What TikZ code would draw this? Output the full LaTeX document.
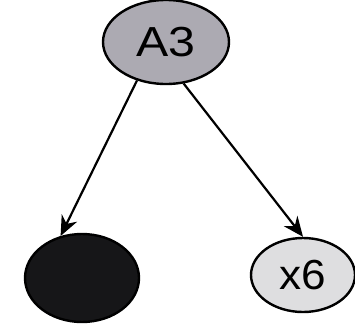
\documentclass[tikz,border=0pt]{standalone}
\usepackage{fontspec}
\setmainfont{Liberation Sans}
\usetikzlibrary{shapes.geometric,arrows.meta}
\definecolor{midgrey}{RGB}{172,170,178}
\definecolor{lightgrey}{RGB}{222,222,224}
\definecolor{darkfill}{RGB}{22,22,24}
\tikzset{
  bnode/.style={ellipse, draw=black, line width=2.4pt, inner sep=0pt, font=\fontsize{42}{42}\selectfont},
  edge/.style={line width=2.2pt, -{Stealth[length=20pt,width=17pt]}}
}
\begin{document}
\begin{tikzpicture}[x=1pt,y=-1pt]
\useasboundingbox (0,0) rectangle (355,324);
\node[bnode, fill=midgrey, minimum width=126pt, minimum height=84pt] (a3) at (166,42) {\scalebox{1.15}[1]{A3}};
\node[bnode, fill=darkfill, minimum width=114pt, minimum height=88pt] (b) at (82,278) {};
\node[bnode, fill=lightgrey, minimum width=104pt, minimum height=74pt] (x6) at (303,275) {\scalebox{1.05}[1]{x6}};
\draw[edge] (a3.233) -- (b.117);
\draw[edge] (a3.293) -- (x6.90);
\end{tikzpicture}
\end{document}
